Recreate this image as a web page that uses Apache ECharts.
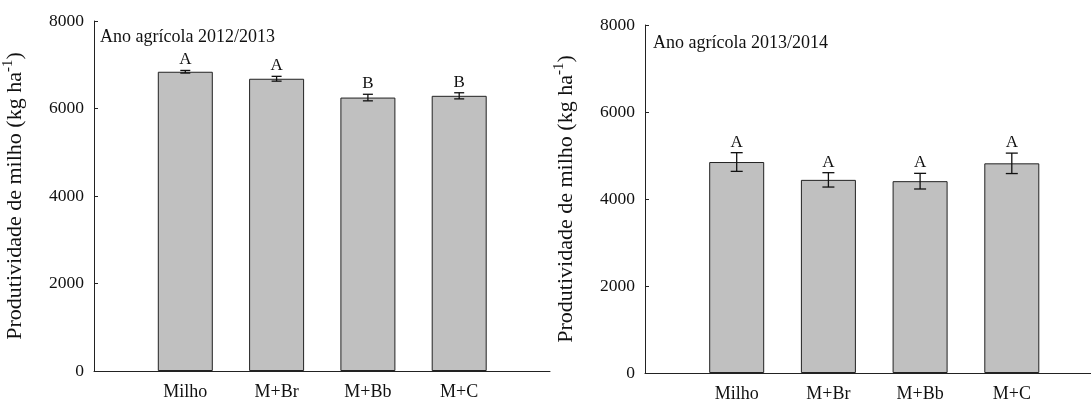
<!DOCTYPE html>
<html>
<head>
<meta charset="utf-8">
<script src="https://cdn.jsdelivr.net/npm/echarts@6/dist/echarts.min.js"></script>
<style>
html,body{margin:0;padding:0;background:#fff;}
#c{width:1091px;height:403px;}
</style>
</head>
<body>
<div id="c"></div>
<script>
const categories = ['Milho', 'M+Br', 'M+Bb', 'M+C'];
const yield2012 = [6840, 6680, 6250, 6290];
const err2012 = [30, 55, 75, 70];
const letters2012 = ['A', 'A', 'B', 'B'];
const yield2013 = [4850, 4440, 4410, 4820];
const err2013 = [215, 165, 180, 235];
const letters2013 = ['A', 'A', 'A', 'A'];
const yTicks = [0, 2000, 4000, 6000, 8000];
const panelTitles = ['Ano agrícola 2012/2013', 'Ano agrícola 2013/2014'];
const yName = 'Produtividade de milho (kg ha';
const ySup = '-1';

const FONT = 'Liberation Serif';
const SLOT = 91.7;
const chart = echarts.init(document.getElementById('c'), null, {renderer: 'canvas'});

function xAxisCfg(gridIndex, max) {
  return {
    type: 'value', gridIndex: gridIndex, min: 0, max: max, interval: 1,
    splitLine: {show: false},
    axisTick: {show: false},
    axisLine: {show: true, onZero: false, lineStyle: {color: '#222', width: 1}},
    axisLabel: {
      show: true, margin: 12, color: '#111', fontFamily: FONT, fontSize: 18,
      showMaxLabel: false, showMinLabel: false,
      formatter: function (v) { const i = Math.round(v) - 1; return (i >= 0 && i < categories.length && Math.abs(v - i - 1) < 1e-6) ? categories[i] : ''; }
    }
  };
}
function yAxisCfg(gridIndex) {
  return {
    type: 'value', gridIndex: gridIndex, min: yTicks[0], max: yTicks[yTicks.length - 1], interval: yTicks[1] - yTicks[0],
    splitLine: {show: false},
    axisLine: {show: true, lineStyle: {color: '#222', width: 1}},
    axisTick: {show: true, inside: true, length: 4, lineStyle: {color: '#222'}},
    axisLabel: {margin: 10, color: '#111', fontFamily: FONT, fontSize: 17.5, formatter: function (v) { return String(v); }},
    name: '{a|' + yName + '}{s|' + ySup + '}{a|)}',
    nameLocation: 'middle', nameGap: 65, nameRotate: 90,
    nameTextStyle: {
      rich: {
        a: {fontFamily: FONT, fontSize: 22, color: '#111'},
        s: {fontFamily: FONT, fontSize: 15, color: '#111', padding: [0, 0, 13, 0]}
      }
    }
  };
}
function errSeries(idx, vals, errs, letters, cw) {
  return {
    type: 'custom', xAxisIndex: idx, yAxisIndex: idx, clip: false, z: 5,
    data: vals.map((v, i) => [i + 1, v, errs[i]]),
    renderItem: function (params, api) {
      const x = api.value(0), v = api.value(1), e = api.value(2);
      const top = api.coord([x, v + e]);
      const bot = api.coord([x, v - e]);
      const st = {stroke: '#111', lineWidth: 1.3};
      return {
        type: 'group',
        children: [
          {type: 'line', shape: {x1: top[0], y1: top[1], x2: bot[0], y2: bot[1]}, style: st},
          {type: 'line', shape: {x1: top[0] - cw, y1: top[1], x2: top[0] + cw, y2: top[1]}, style: st},
          {type: 'line', shape: {x1: bot[0] - cw, y1: bot[1], x2: bot[0] + cw, y2: bot[1]}, style: st},
          {type: 'text', x: top[0], y: top[1] - 2, style: {text: letters[params.dataIndex], fill: '#111', font: '17px "' + FONT + '"', align: 'center', verticalAlign: 'bottom'}}
        ]
      };
    }
  };
}
function barSeries(idx, vals) {
  return {
    type: 'bar', xAxisIndex: idx, yAxisIndex: idx, barWidth: 55,
    data: vals.map((v, i) => [i + 1, v]),
    itemStyle: {color: '#c0c0c0', borderColor: '#222', borderWidth: 1},
    emphasis: {disabled: true}
  };
}

const g0 = {left: 92, top: 21, width: 458, height: 350};
const g1 = {left: 645, top: 25, width: 446, height: 351};

chart.setOption({
  animation: false,
  backgroundColor: '#fff',
  grid: [g0, g1],
  title: [
    {text: panelTitles[0], left: 100, top: 28, padding: 0, textStyle: {fontFamily: FONT, fontSize: 18, fontWeight: 'normal', color: '#111'}},
    {text: panelTitles[1], left: 653, top: 34, padding: 0, textStyle: {fontFamily: FONT, fontSize: 18, fontWeight: 'normal', color: '#111'}}
  ],
  xAxis: [xAxisCfg(0, g0.width / SLOT), xAxisCfg(1, g1.width / SLOT)],
  yAxis: [yAxisCfg(0), yAxisCfg(1)],
  series: [
    barSeries(0, yield2012),
    errSeries(0, yield2012, err2012, letters2012, 5),
    barSeries(1, yield2013),
    errSeries(1, yield2013, err2013, letters2013, 6)
  ]
});
</script>
</body>
</html>
